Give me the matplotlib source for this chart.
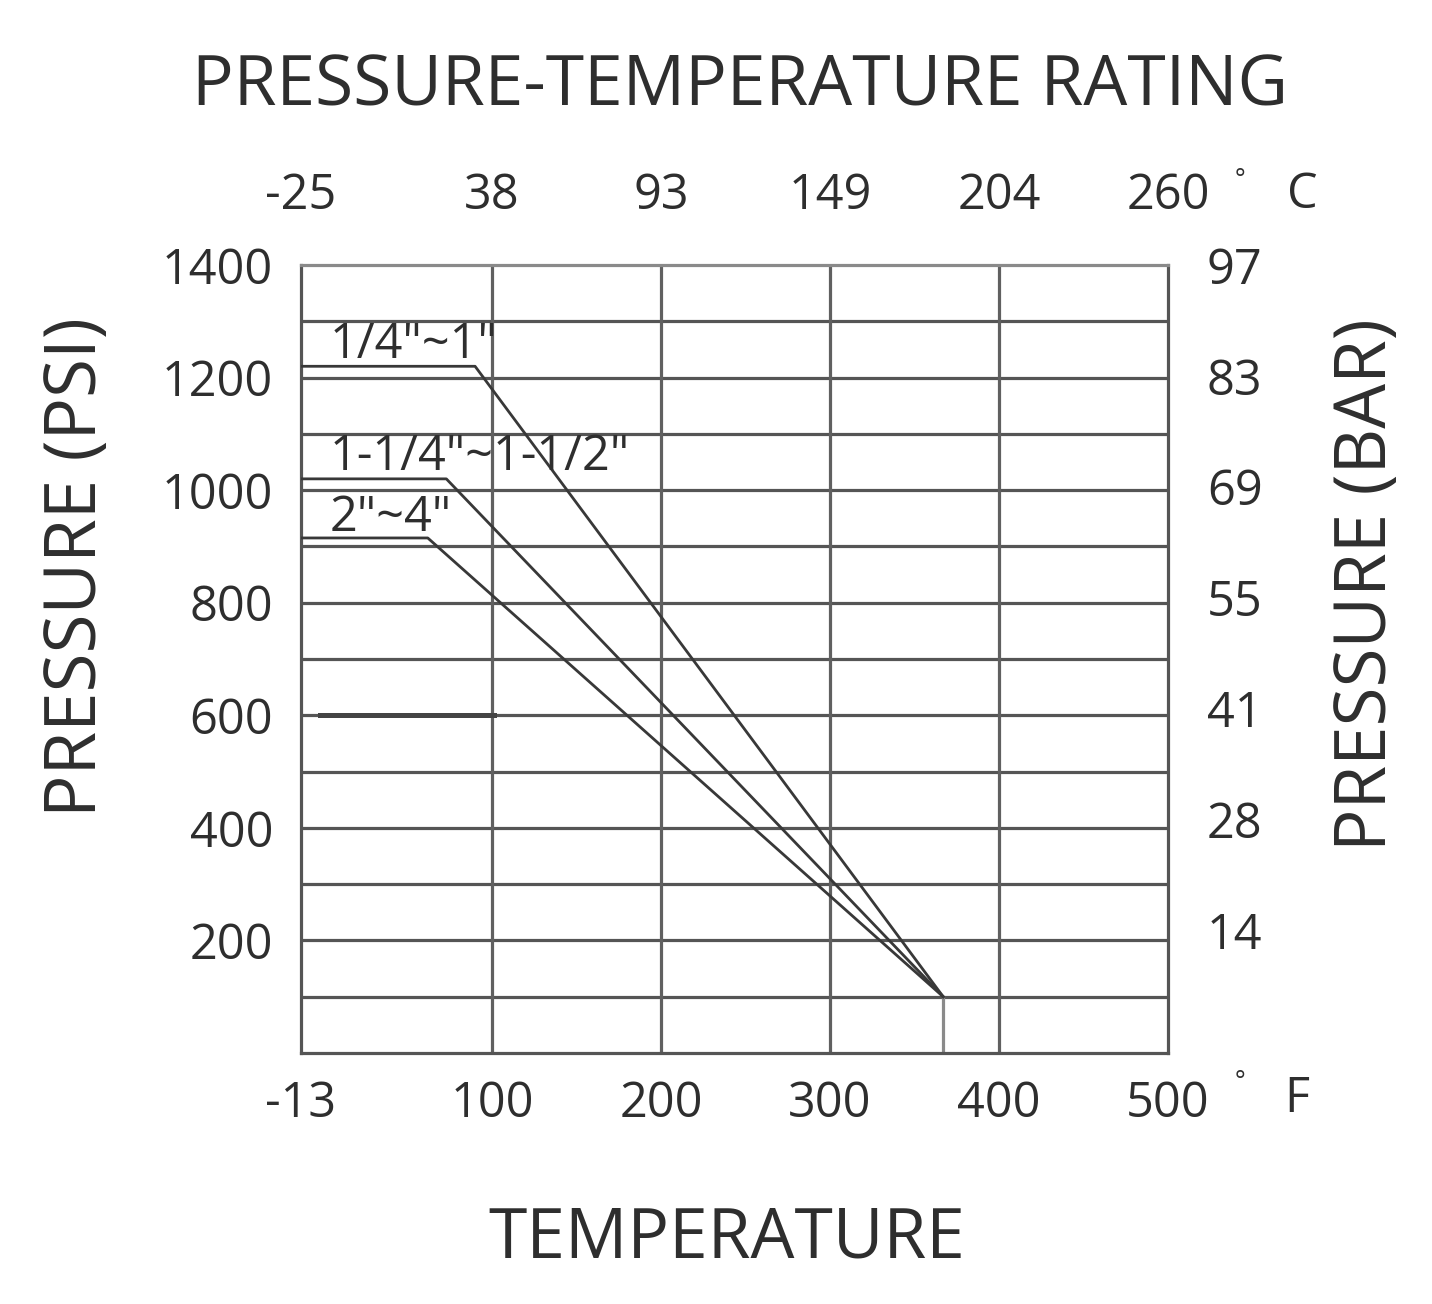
import numpy as np
import matplotlib
matplotlib.use('Agg')
import matplotlib.pyplot as plt

plt.rcParams['font.family'] = ['Open Sans', 'DejaVu Sans']

# ---- data ----
f_ticks = [-13, 100, 200, 300, 400, 500]
f_labels = ['-13', '100', '200', '300', '400', '500']
c_labels = ['-25', '38', '93', '149', '204', '260']
psi_ticks = [200, 400, 600, 800, 1000, 1200, 1400]
bar_labels = ['14', '28', '41', '55', '69', '83', '97']

sizes = ['1/4"~1"', '1-1/4"~1-1/2"', '2"~4"']
flat_psi = [1220, 1020, 915]       # rated pressure at low temp
knee_temp = [90, 73, 62]           # deg F where derating starts
end_temp = 367                      # all curves meet here
end_psi = 100
label_psi = [1213, 1014, 906]

TXT = '#2e2e2e'
GRID = '#555555'
LINE = '#383838'

fig = plt.figure(figsize=(14.32, 13.04), dpi=100)
ax = fig.add_axes([0.2102, 0.1925, 0.6054, 0.6043])
ax.set_xlim(-13, 500)
ax.set_ylim(0, 1400)

# grid
for p in range(100, 1400, 100):
    ax.axhline(p, color=GRID, lw=2.3, zorder=1)
for t in [100, 200, 300, 400]:
    ax.axvline(t, color='#606060', lw=2.3, zorder=1)
for s in ax.spines.values():
    s.set_color(GRID)
    s.set_linewidth(2.3)
ax.spines['top'].set_color('#8a8a8a')

# odd darker stroke at 600 psi
ax.plot([-2, 101], [600, 600], color='#444444', lw=3.6, zorder=2)

# rating curves
for name, fp, kt, lp in zip(sizes, flat_psi, knee_temp, label_psi):
    ax.plot([-13, kt, end_temp], [fp, fp, end_psi], color=LINE, lw=2.0, zorder=3)
    ax.text(4, lp, name, fontsize=35, color=TXT, ha='left', va='bottom', zorder=4)
ax.plot([end_temp, end_temp], [end_psi, 0], color='#8a8a8a', lw=2.3, zorder=2)

# bottom / left ticks
ax.set_xticks(f_ticks)
ax.set_xticklabels(f_labels)
ax.set_yticks(psi_ticks)
ax.set_yticklabels([str(p) for p in psi_ticks])
ax.tick_params(axis='x', length=0, pad=19, labelsize=35, labelcolor=TXT)
ax.tick_params(axis='y', length=0, pad=20, labelsize=35, labelcolor=TXT)

# top celsius axis
axt = ax.twiny()
axt.set_xlim(ax.get_xlim())
axt.set_xticks(f_ticks)
axt.set_xticklabels(c_labels)
axt.tick_params(axis='x', length=0, pad=32, labelsize=35, labelcolor=TXT)

# right bar axis
axr = ax.twinx()
axr.set_ylim(ax.get_ylim())
axr.set_yticks([p + 22 for p in psi_ticks])
axr.set_yticklabels(bar_labels)
axr.tick_params(axis='y', length=0, pad=28, labelsize=35, labelcolor=TXT)
for a in (axt, axr):
    for s in a.spines.values():
        s.set_visible(False)

# unit marks
fig.text(1240 / 1432, 1 - 180 / 1304, '°', fontsize=18, color=TXT, ha='center', va='center')
fig.text(1302 / 1432, 1 - 195 / 1304, 'C', fontsize=35, color=TXT, ha='center', va='center')
fig.text(1240 / 1432, 1 - 1082 / 1304, '°', fontsize=18, color=TXT, ha='center', va='center')
fig.text(1297 / 1432, 1 - 1099 / 1304, 'F', fontsize=35, color=TXT, ha='center', va='center')

# titles
fig.text(740 / 1432, 1 - 87 / 1304, 'PRESSURE-TEMPERATURE RATING', fontsize=50,
         color=TXT, ha='center', va='center')
fig.text(727 / 1432, 1 - 1240 / 1304, 'TEMPERATURE', fontsize=50,
         color=TXT, ha='center', va='center')
fig.text(77 / 1432, 1 - 567 / 1304, 'PRESSURE (PSI)', fontsize=51, rotation=90,
         color=TXT, ha='center', va='center')
fig.text(1367 / 1432, 1 - 585 / 1304, 'PRESSURE (BAR)', fontsize=51, rotation=90,
         color=TXT, ha='center', va='center')

plt.savefig('out.png', dpi=100)
plt.close(fig)
